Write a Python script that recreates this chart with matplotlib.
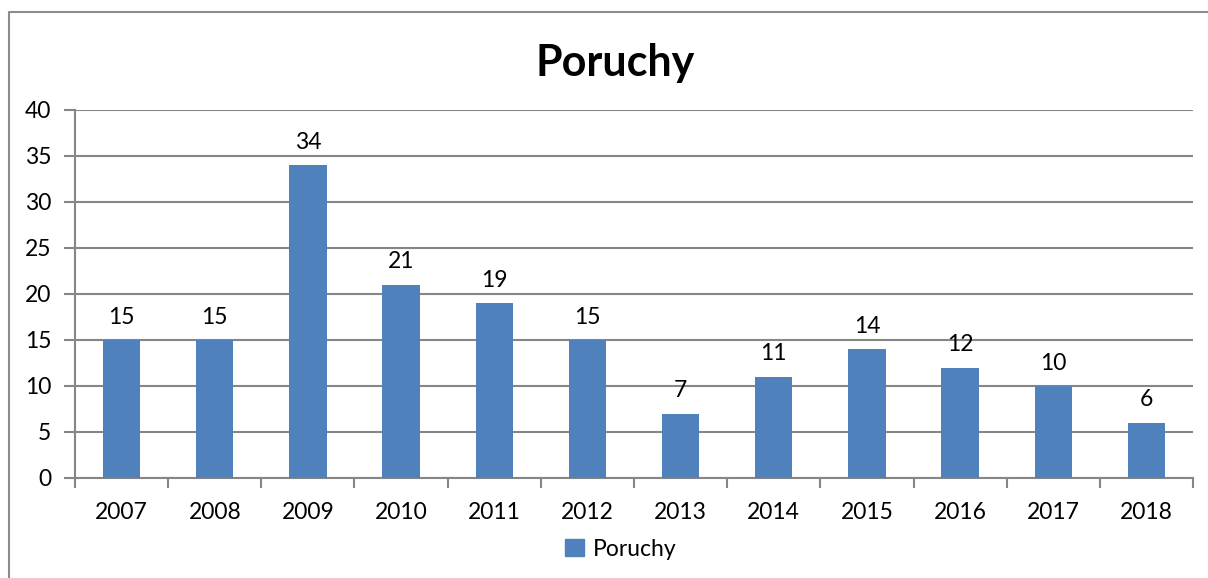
import matplotlib.pyplot as plt
from matplotlib.lines import Line2D
from matplotlib.patches import Patch

years = ['2007', '2008', '2009', '2010', '2011', '2012',
         '2013', '2014', '2015', '2016', '2017', '2018']
poruchy = [15, 15, 34, 21, 19, 15, 7, 11, 14, 12, 10, 6]

W, H = 1208, 578
plt.rcParams['font.family'] = ['Lato', 'DejaVu Sans']

fig = plt.figure(figsize=(W / 100, H / 100), dpi=100)

# outer chart frame (cut off at right and bottom)
fig.add_artist(Line2D([9 / W, 9 / W, 1], [0, 1 - 12 / H, 1 - 12 / H],
                      transform=fig.transFigure, color='#8c8c8c', lw=1.5))

ax = fig.add_axes([75 / W, 1 - 478 / H, (1193 - 75) / W, (478 - 110) / H])
x = list(range(len(years)))
bars = ax.bar(x, poruchy, width=0.4, color='#4f81bd', zorder=3)

ax.set_xlim(-0.5, len(years) - 0.5)
ax.set_ylim(0, 40)
ax.set_yticks(range(0, 41, 5))
ax.set_xticks(x)
ax.set_xticklabels(years)
ax.tick_params(axis='x', length=0, pad=17, labelsize=16.5)
ax.tick_params(axis='y', length=8, width=1.5, color='#868686', pad=9, labelsize=16.5)
# tick marks between categories
ax.set_xticks([i - 0.5 for i in range(len(years) + 1)], minor=True)
ax.tick_params(axis='x', which='minor', length=7, width=1.5, color='#868686')

ax.grid(axis='y', color='#868686', lw=1.5, zorder=0)
for side in ['top', 'right']:
    ax.spines[side].set_visible(False)
for side in ['left', 'bottom']:
    ax.spines[side].set_color('#868686')
    ax.spines[side].set_linewidth(1.5)

for b, v in zip(bars, poruchy):
    ax.annotate(str(v), (b.get_x() + b.get_width() / 2, v), xytext=(0, 9),
                textcoords='offset points', ha='center', va='bottom', fontsize=16.5)

fig.text(615 / W, 1 - 63 / H, 'Poruchy', ha='center', va='center',
         fontsize=31, fontweight='bold')

fig.legend(handles=[Patch(color='#4f81bd', label='Poruchy')],
           loc='center', bbox_to_anchor=(621 / W, 1 - 549 / H), frameon=False,
           fontsize=16.5, handlelength=0.8, handleheight=0.8, handletextpad=0.4)

fig.savefig('out.png', dpi=100)
